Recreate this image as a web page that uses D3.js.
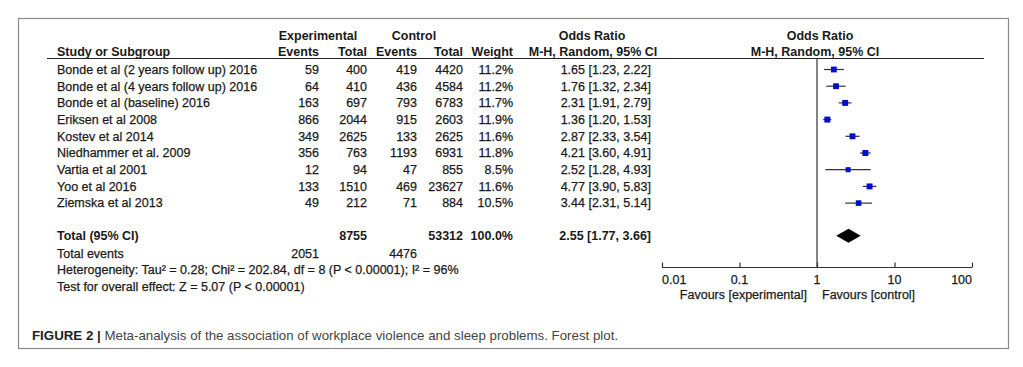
<!DOCTYPE html>
<html>
<head>
<meta charset="utf-8">
<script src="https://cdn.jsdelivr.net/npm/d3@7"></script>
<style>
  body { margin: 0; background: #fff; }
  svg text { font-family: "Liberation Sans", Arial, sans-serif; fill: #1a1a1a; }
  .hd { font-weight: bold; }
  .rg { stroke: #1a1a1a; stroke-width: 0.25px; }
</style>
</head>
<body>
<svg id="chart" width="1023" height="367"></svg>
<script>
// study rows
var studies = ['Bonde et al (2 years follow up) 2016', 'Bonde et al (4 years follow up) 2016',
  'Bonde et al (baseline) 2016', 'Eriksen et al 2008', 'Kostev et al 2014',
  'Niedhammer et al. 2009', 'Vartia et al 2001', 'Yoo et al 2016', 'Ziemska et al 2013'];
var expEvents = [59, 64, 163, 866, 349, 356, 12, 133, 49];
var expTotal = [400, 410, 697, 2044, 2625, 763, 94, 1510, 212];
var ctrlEvents = [419, 436, 793, 915, 133, 1193, 47, 469, 71];
var ctrlTotal = [4420, 4584, 6783, 2603, 2625, 6931, 855, 23627, 884];
var weights = [11.2, 11.2, 11.7, 11.9, 11.6, 11.8, 8.5, 11.6, 10.5];
var oddsRatio = [1.65, 1.76, 2.31, 1.36, 2.87, 4.21, 2.52, 4.77, 3.44];
var ciLow = [1.23, 1.32, 1.91, 1.20, 2.33, 3.60, 1.28, 3.90, 2.31];
var ciHigh = [2.22, 2.34, 2.79, 1.53, 3.54, 4.91, 4.93, 5.83, 5.14];

// pooled result
var totalExp = 8755, totalCtrl = 53312, totalWeight = '100.0%';
var totalOR = 2.55, totalLow = 1.77, totalHigh = 3.66;
var totalEventsExp = 2051, totalEventsCtrl = 4476;
var heterogeneity = 'Heterogeneity: Tau² = 0.28; Chi² = 202.84, df = 8 (P < 0.00001); I² = 96%';
var overallTest = 'Test for overall effect: Z = 5.07 (P < 0.00001)';

var axisTicks = [0.01, 0.1, 1, 10, 100];
var tickLabels = ['0.01', '0.1', '1', '10', '100'];

var svg = d3.select('#chart');
var fs = 12.5;

// frame
svg.append('rect')
  .attr('x', 18.5).attr('y', 18.5)
  .attr('width', 990).attr('height', 330)
  .attr('fill', 'none').attr('stroke', '#8a8a8a').attr('stroke-width', 1.2);

// row position: index -> vertical centre
var y = d3.scaleLinear().domain([0, 1]).range([69.5, 86.2]);
var x = d3.scaleLog().domain([0.01, 100]).range([662, 972]);

function txt(xp, yp, s, anchor, bold) {
  return svg.append('text')
    .attr('x', xp).attr('y', yp).attr('dy', '0.35em')
    .attr('text-anchor', anchor || 'start')
    .attr('class', bold ? 'hd' : 'rg')
    .style('font-size', fs + 'px')
    .text(s);
}

// headers
txt(318, 35.5, 'Experimental', 'middle', true);
txt(414, 35.5, 'Control', 'middle', true);
txt(592, 35.5, 'Odds Ratio', 'middle', true);
txt(820, 35.5, 'Odds Ratio', 'middle', true);
txt(57, 52, 'Study or Subgroup', 'start', true);
txt(319, 52, 'Events', 'end', true);
txt(367, 52, 'Total', 'end', true);
txt(417, 52, 'Events', 'end', true);
txt(463, 52, 'Total', 'end', true);
txt(513, 52, 'Weight', 'end', true);
txt(593, 52, 'M-H, Random, 95% CI', 'middle', true);
txt(815, 52, 'M-H, Random, 95% CI', 'middle', true);

svg.append('line')
  .attr('x1', 47).attr('x2', 984).attr('y1', 58.5).attr('y2', 58.5)
  .attr('stroke', '#222').attr('stroke-width', 1.2);

// study rows
studies.forEach(function(s, i) {
  var yy = y(i);
  txt(57, yy, s);
  txt(319, yy, expEvents[i], 'end');
  txt(367, yy, expTotal[i], 'end');
  txt(417, yy, ctrlEvents[i], 'end');
  txt(463, yy, ctrlTotal[i], 'end');
  txt(513, yy, weights[i].toFixed(1) + '%', 'end');
  txt(651, yy, oddsRatio[i].toFixed(2) + ' [' + ciLow[i].toFixed(2) + ', ' + ciHigh[i].toFixed(2) + ']', 'end');
});

// totals
var yt = y(9.95);
txt(57, yt, 'Total (95% CI)', 'start', true);
txt(367, yt, totalExp, 'end', true);
txt(463, yt, totalCtrl, 'end', true);
txt(513, yt, totalWeight, 'end', true);
txt(651, yt, totalOR.toFixed(2) + ' [' + totalLow.toFixed(2) + ', ' + totalHigh.toFixed(2) + ']', 'end', true);
txt(57, y(11), 'Total events');
txt(319, y(11), totalEventsExp, 'end');
txt(417, y(11), totalEventsCtrl, 'end');
txt(57, y(12), heterogeneity);
txt(57, y(13), overallTest);

// plot: null line
var axisY = 267.5;
svg.append('line')
  .attr('x1', x(1)).attr('x2', x(1)).attr('y1', 58.5).attr('y2', axisY)
  .attr('stroke', '#333').attr('stroke-width', 1.2);

var plot = svg.append('g');
var rows = plot.selectAll('g.study')
  .data(studies.map(function(s, i) { return i; }))
  .enter().append('g').attr('class', 'study');

rows.append('line')
  .attr('x1', function(i) { return x(ciLow[i]); })
  .attr('x2', function(i) { return x(ciHigh[i]); })
  .attr('y1', function(i) { return y(i); })
  .attr('y2', function(i) { return y(i); })
  .attr('stroke', '#333').attr('stroke-width', 1.2);

var size = d3.scaleSqrt().domain([0, 12]).range([0, 6]);
rows.append('rect')
  .attr('x', function(i) { return x(oddsRatio[i]) - size(weights[i]) / 2; })
  .attr('y', function(i) { return y(i) - size(weights[i]) / 2; })
  .attr('width', function(i) { return size(weights[i]); })
  .attr('height', function(i) { return size(weights[i]); })
  .attr('fill', '#0010c8');

// pooled diamond
plot.append('path')
  .attr('d', 'M' + x(totalLow) + ',' + yt + 'L' + x(totalOR) + ',' + (yt - 7) +
    'L' + x(totalHigh) + ',' + yt + 'L' + x(totalOR) + ',' + (yt + 7) + 'Z')
  .attr('fill', '#000');

// log axis
var axis = d3.axisTop(x).tickValues(axisTicks).tickSize(5).tickFormat('');
var ax = svg.append('g').attr('transform', 'translate(0,' + axisY + ')').call(axis);
ax.select('.domain').attr('stroke', '#333').attr('stroke-width', 1.2).attr('d', 'M' + x(0.01) + ',0H' + x(100));
ax.selectAll('.tick line').attr('stroke', '#333').attr('stroke-width', 1.2);

axisTicks.forEach(function(t, i) {
  var anchor = i === 0 ? 'start' : (i === axisTicks.length - 1 ? 'end' : 'middle');
  txt(x(t), 279.5, tickLabels[i], anchor);
});
txt(807, 295, 'Favours [experimental]', 'end');
txt(822, 295, 'Favours [control]', 'start');

// caption
var cap = svg.append('text').attr('x', 32).attr('y', 335).attr('dy', '0.35em')
  .style('font-size', '13.3px');
cap.append('tspan').style('font-weight', 'bold').attr('fill', '#222').text('FIGURE 2 | ');
cap.append('tspan').attr('fill', '#444').text('Meta-analysis of the association of workplace violence and sleep problems. Forest plot.');
</script>
</body>
</html>
